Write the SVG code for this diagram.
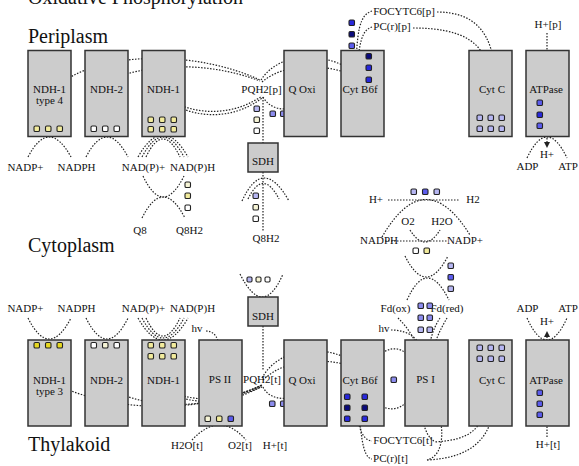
<svg xmlns="http://www.w3.org/2000/svg" width="579" height="466" viewBox="0 0 579 466">
<defs>
<style>
.box{fill:#cccccc;stroke:#333;stroke-width:1.5}
.sq{stroke:#222;stroke-width:1.1}
.w{fill:#ffffff}.cr{fill:#f6f4d6}.py{fill:#f2eb9c}.y{fill:#e6d820}
.lv{fill:#b6b6f2}.lb{fill:#8c8cee}.mb{fill:#5c5ced}.b{fill:#2828dc}.n{fill:#0a0a7c}
.c{fill:none;stroke:#222;stroke-width:1.2;stroke-dasharray:1.5 1.5}
text{font-family:"Liberation Serif","Times New Roman",serif;fill:#111}
.t{font-size:11px;text-anchor:middle}
.h{font-size:20px}
</style>
<marker id="ar" viewBox="0 0 6 6" refX="5" refY="3" markerWidth="5" markerHeight="5" orient="auto">
<path d="M0,0 L6,3 L0,6 z" fill="#222"/>
</marker>
</defs>
<rect width="579" height="466" fill="#fff"/>

<text class="h" x="28" y="4">Oxidative Phosphorylation</text>
<text class="h" x="28" y="43">Periplasm</text>
<text class="h" x="28" y="252">Cytoplasm</text>
<text class="h" x="28" y="451">Thylakoid</text>

<g id="connectors">
<!-- top -->
<path class="c" d="M64,81 C110,50 200,52 260,80"/>
<path class="c" d="M107,81 C150,62 210,62 260,81"/>
<path class="c" d="M163,96 C195,118 235,115 262,96"/>
<path class="c" d="M165,99 C195,121 235,119 262,98"/>
<path class="c" d="M261,80 C280,50 330,50 363,78" marker-end="url(#ar)"/>
<path class="c" d="M262,82 C285,62 330,62 363,80"/>
<path class="c" d="M263,97 C272,113 295,113 306,96"/>
<path class="c" d="M263,97 L263,143"/>
<path class="c" d="M263,172 L263,231"/>
<path class="c" d="M242,201 Q263,155 289,201"/>
<path class="c" d="M248,199 Q263,168 279,199"/>
<path class="c" d="M28,157 Q49,117 71,157"/>
<path class="c" d="M86,157 Q107,117 128,157"/>
<path class="c" d="M138,157 Q163,113 188,157"/>
<path class="c" d="M142,157 Q163,117 184,157"/>
<path class="c" d="M146,157 Q163,121 180,157"/>
<path class="c" d="M143,176 Q163,218 184,176"/>
<path class="c" d="M142,218 Q163,176 185,218"/>
<path class="c" d="M547,33 L547,147" marker-end="url(#ar)"/>
<path class="c" d="M527,158 Q547,116 567,158"/>
<path class="c" d="M437,12 C472,12 495,30 495,81" marker-end="url(#ar)"/>
<path class="c" d="M413,28 C462,28 489,42 489,81" marker-end="url(#ar)"/>
<path class="c" d="M372,11 C360,15 356,28 356,83"/>
<path class="c" d="M372,27 C362,30 358,42 357,83"/>
<!-- cytoplasm right -->
<path class="c" d="M388,200 L460,200"/>
<path class="c" d="M382,237 Q425,163 470,235"/>
<path class="c" d="M385,241 L448,241"/>
<path class="c" d="M410,230 Q425,254 440,230"/>
<path class="c" d="M405,256 Q426,298 448,256"/>
<path class="c" d="M407,300 Q427,256 449,300"/>
<!-- bottom -->
<path class="c" d="M28,318 Q49,360 71,318"/>
<path class="c" d="M86,318 Q107,360 128,318"/>
<path class="c" d="M138,318 Q163,362 188,318"/>
<path class="c" d="M142,318 Q163,358 184,318"/>
<path class="c" d="M146,318 Q163,354 180,318"/>
<path class="c" d="M206,331 C218,331 221,345 220,364" marker-end="url(#ar)"/>
<path class="c" d="M192,440 Q220,410 246,440"/>
<path class="c" d="M240,274 Q263,320 283,274"/>
<path class="c" d="M263,326 L263,370"/>
<path class="c" d="M64,388 C120,412 200,414 262,385"/>
<path class="c" d="M107,388 C150,410 205,411 262,385"/>
<path class="c" d="M165,388 C190,404 230,402 262,385"/>
<path class="c" d="M167,391 C192,407 232,404 262,386"/>
<path class="c" d="M226,392 C238,396 250,392 262,387"/>
<path class="c" d="M263,387 C270,402 295,403 307,385"/>
<path class="c" d="M262,378 C280,345 330,342 363,368" marker-end="url(#ar)"/>
<path class="c" d="M263,380 C285,358 330,356 363,370"/>
<path class="c" d="M372,367 C376,350 405,336 414,368"/>
<path class="c" d="M368,392 C375,410 405,420 413,388"/>
<path class="c" d="M398,318 C410,330 420,345 421,366" marker-end="url(#ar)"/>
<path class="c" d="M391,330 C410,330 424,340 425,366" marker-end="url(#ar)"/>
<path class="c" d="M447,318 C440,330 432,345 431,366" marker-end="url(#ar)"/>
<path class="c" d="M440,318 C432,330 428,345 428,366"/>
<path class="c" d="M423,392 C418,425 430,440 434,441"/>
<path class="c" d="M431,392 C445,420 447,455 427,460"/>
<path class="c" d="M488,392 C485,430 470,440 434,442"/>
<path class="c" d="M495,392 C495,440 470,458 427,460"/>
<path class="c" d="M355,390 C356,420 360,440 372,441"/>
<path class="c" d="M358,390 C360,430 362,458 372,459"/>
<path class="c" d="M547,437 L547,332" marker-end="url(#ar)"/>
<path class="c" d="M527,318 Q547,362 567,318"/>
</g>

<!-- top row nodes -->
<g id="ndh1-type4-p">
<rect class="box" x="28" y="50.5" width="43" height="86"/>
<text class="t" x="49.5" y="93">NDH-1</text>
<text class="t" x="49.5" y="104">type 4</text>
<rect class="sq py" x="34" y="126" width="5.5" height="5.5" rx="1.3"/>
<rect class="sq py" x="45.5" y="126" width="5.5" height="5.5" rx="1.3"/>
<rect class="sq py" x="57" y="126" width="5.5" height="5.5" rx="1.3"/>
</g>
<g id="ndh2-p">
<rect class="box" x="85" y="50.5" width="43" height="86"/>
<text class="t" x="106.5" y="93">NDH-2</text>
<rect class="sq w" x="91" y="126" width="5.5" height="5.5" rx="1.3"/>
<rect class="sq w" x="102.5" y="126" width="5.5" height="5.5" rx="1.3"/>
<rect class="sq w" x="114" y="126" width="5.5" height="5.5" rx="1.3"/>
</g>
<g id="ndh1-p">
<rect class="box" x="142" y="50.5" width="43" height="86"/>
<text class="t" x="163.5" y="93">NDH-1</text>
<rect class="sq py" x="148" y="117" width="5.5" height="5.5" rx="1.3"/>
<rect class="sq py" x="159.5" y="117" width="5.5" height="5.5" rx="1.3"/>
<rect class="sq py" x="171" y="117" width="5.5" height="5.5" rx="1.3"/>
<rect class="sq py" x="148" y="126.5" width="5.5" height="5.5" rx="1.3"/>
<rect class="sq py" x="159.5" y="126.5" width="5.5" height="5.5" rx="1.3"/>
<rect class="sq py" x="171" y="126.5" width="5.5" height="5.5" rx="1.3"/>
</g>
<g id="pqh2-p">
<text class="t" x="261.5" y="93">PQH2[p]</text>
<rect class="sq lv" x="254" y="106" width="5.5" height="5.5" rx="1.3"/>
<rect class="sq cr" x="254" y="117" width="5.5" height="5.5" rx="1.3"/>
<rect class="sq w" x="254" y="128" width="5.5" height="5.5" rx="1.3"/>
<rect class="sq lb" x="270" y="111" width="5.5" height="5.5" rx="1.3"/>
<rect class="sq lb" x="280.5" y="111" width="5.5" height="5.5" rx="1.3"/>
</g>
<g id="qoxi-p">
<rect class="box" x="284" y="50.5" width="43" height="86"/>
<text class="t" x="302" y="93">Q Oxi</text>
</g>
<g id="cytb6f-p">
<rect class="box" x="341" y="50.5" width="43" height="86"/>
<text class="t" x="360" y="93">Cyt B6f</text>
<rect class="sq b" x="349" y="20" width="5.5" height="5.5" rx="1.3"/>
<rect class="sq n" x="349" y="31.5" width="5.5" height="5.5" rx="1.3"/>
<rect class="sq mb" x="349" y="43" width="5.5" height="5.5" rx="1.3"/>
<rect class="sq n" x="366" y="53.5" width="5.5" height="5.5" rx="1.3"/>
<rect class="sq b" x="366" y="65" width="5.5" height="5.5" rx="1.3"/>
<rect class="sq b" x="366" y="77" width="5.5" height="5.5" rx="1.3"/>
</g>
<g id="cytc-p">
<rect class="box" x="469" y="50.5" width="43" height="86"/>
<text class="t" x="492" y="93">Cyt C</text>
<rect class="sq lv" x="477" y="115" width="5.5" height="5.5" rx="1.3"/>
<rect class="sq lv" x="488" y="115" width="5.5" height="5.5" rx="1.3"/>
<rect class="sq lv" x="499" y="115" width="5.5" height="5.5" rx="1.3"/>
<rect class="sq lv" x="477" y="126" width="5.5" height="5.5" rx="1.3"/>
<rect class="sq lv" x="488" y="126" width="5.5" height="5.5" rx="1.3"/>
<rect class="sq lv" x="499" y="126" width="5.5" height="5.5" rx="1.3"/>
</g>
<g id="atpase-p">
<rect class="box" x="526" y="50.5" width="43" height="86"/>
<text class="t" x="546" y="93">ATPase</text>
<rect class="sq mb" x="537" y="100" width="5.5" height="5.5" rx="1.3"/>
<rect class="sq b" x="537" y="112" width="5.5" height="5.5" rx="1.3"/>
<rect class="sq mb" x="537" y="123" width="5.5" height="5.5" rx="1.3"/>
</g>
<g id="sdh-top">
<rect class="box" x="248" y="143" width="30" height="29"/>
<text class="t" x="263" y="165">SDH</text>
<rect class="sq lv" x="253" y="193" width="5.5" height="5.5" rx="1.3"/>
<rect class="sq cr" x="253" y="204.5" width="5.5" height="5.5" rx="1.3"/>
<rect class="sq w" x="253" y="216" width="5.5" height="5.5" rx="1.3"/>
</g>

<!-- top metabolite labels -->
<g id="labels-top">
<text class="t" x="548" y="28">H+[p]</text>
<text class="t" x="404" y="15">FOCYTC6[p]</text>
<text class="t" x="392" y="30">PC(r)[p]</text>
<text class="t" x="25.5" y="171">NADP+</text>
<text class="t" x="76.5" y="171">NADPH</text>
<text class="t" x="143.5" y="171">NAD(P)+</text>
<text class="t" x="192.5" y="171">NAD(P)H</text>
<text class="t" x="140" y="234">Q8</text>
<text class="t" x="189.5" y="234">Q8H2</text>
<text class="t" x="266" y="242">Q8H2</text>
<text class="t" x="547" y="158">H+</text>
<text class="t" x="527.5" y="170">ADP</text>
<text class="t" x="568" y="170">ATP</text>
</g>
<g id="nadph-sq">
<rect class="sq cr" x="185" y="182" width="5.5" height="5.5" rx="1.3"/>
<rect class="sq py" x="185" y="193" width="5.5" height="5.5" rx="1.3"/>
<rect class="sq w" x="185" y="205" width="5.5" height="5.5" rx="1.3"/>
</g>

<!-- cytoplasm right -->
<g id="hydrogenase">
<text class="t" x="376" y="203">H+</text>
<text class="t" x="473" y="203">H2</text>
<rect class="sq lv" x="411" y="189" width="5.5" height="5.5" rx="1.3"/>
<rect class="sq mb" x="422.5" y="189" width="5.5" height="5.5" rx="1.3"/>
<rect class="sq lv" x="434" y="189" width="5.5" height="5.5" rx="1.3"/>
</g>
<g id="oxidase">
<text class="t" x="408" y="225">O2</text>
<text class="t" x="442" y="225">H2O</text>
<text class="t" x="379" y="244">NADPH</text>
<text class="t" x="465" y="244">NADP+</text>
<rect class="sq w" x="413" y="248" width="5.5" height="5.5" rx="1.3"/>
<rect class="sq py" x="424" y="248" width="5.5" height="5.5" rx="1.3"/>
</g>
<g id="fnr">
<rect class="sq lv" x="448" y="263" width="5.5" height="5.5" rx="1.3"/>
<rect class="sq mb" x="448" y="274.5" width="5.5" height="5.5" rx="1.3"/>
<rect class="sq lv" x="448" y="286" width="5.5" height="5.5" rx="1.3"/>
</g>

<!-- bottom row -->
<g id="sdh-bottom">
<rect class="sq lv" x="247" y="277" width="5" height="5" rx="1.2"/>
<rect class="sq cr" x="256" y="277" width="5" height="5" rx="1.2"/>
<rect class="sq w" x="265" y="277" width="5" height="5" rx="1.2"/>
<rect class="box" x="248" y="297" width="30" height="29"/>
<text class="t" x="263" y="320">SDH</text>
</g>
<g id="labels-bottom">
<text class="t" x="25.5" y="312">NADP+</text>
<text class="t" x="76.5" y="312">NADPH</text>
<text class="t" x="143.5" y="312">NAD(P)+</text>
<text class="t" x="192.5" y="312">NAD(P)H</text>
<text class="t" x="197" y="332">hv</text>
<text class="t" x="187" y="449">H2O[t]</text>
<text class="t" x="240" y="449">O2[t]</text>
<text class="t" x="275" y="449">H+[t]</text>
<text class="t" x="395.5" y="312">Fd(ox)</text>
<text class="t" x="447" y="312">Fd(red)</text>
<text class="t" x="384" y="332">hv</text>
<text class="t" x="403" y="444">FOCYTC6[t]</text>
<text class="t" x="390.5" y="462">PC(r)[t]</text>
<text class="t" x="527.5" y="312">ADP</text>
<text class="t" x="568" y="312">ATP</text>
<text class="t" x="547" y="325">H+</text>
<text class="t" x="548" y="448">H+[t]</text>
</g>
<g id="ndh1-type3-t">
<rect class="box" x="28" y="340" width="43" height="86"/>
<text class="t" x="49.5" y="384">NDH-1</text>
<text class="t" x="49.5" y="395">type 3</text>
<rect class="sq y" x="34" y="342.5" width="5.5" height="5.5" rx="1.3"/>
<rect class="sq y" x="45.5" y="342.5" width="5.5" height="5.5" rx="1.3"/>
<rect class="sq y" x="57" y="342.5" width="5.5" height="5.5" rx="1.3"/>
</g>
<g id="ndh2-t">
<rect class="box" x="85" y="340" width="43" height="86"/>
<text class="t" x="106.5" y="384">NDH-2</text>
<rect class="sq w" x="91" y="342.5" width="5.5" height="5.5" rx="1.3"/>
<rect class="sq cr" x="102.5" y="342.5" width="5.5" height="5.5" rx="1.3"/>
<rect class="sq w" x="114" y="342.5" width="5.5" height="5.5" rx="1.3"/>
</g>
<g id="ndh1-t">
<rect class="box" x="142" y="340" width="43" height="86"/>
<text class="t" x="163.5" y="384">NDH-1</text>
<rect class="sq py" x="148" y="342.5" width="5.5" height="5.5" rx="1.3"/>
<rect class="sq py" x="159.5" y="342.5" width="5.5" height="5.5" rx="1.3"/>
<rect class="sq py" x="171" y="342.5" width="5.5" height="5.5" rx="1.3"/>
<rect class="sq py" x="148" y="353.5" width="5.5" height="5.5" rx="1.3"/>
<rect class="sq py" x="159.5" y="353.5" width="5.5" height="5.5" rx="1.3"/>
<rect class="sq py" x="171" y="353.5" width="5.5" height="5.5" rx="1.3"/>
</g>
<g id="psii">
<rect class="box" x="199" y="340" width="43" height="86"/>
<text class="t" x="220" y="383">PS II</text>
<rect class="sq cr" x="205" y="416" width="5.5" height="5.5" rx="1.3"/>
<rect class="sq py" x="216.5" y="416" width="5.5" height="5.5" rx="1.3"/>
<rect class="sq mb" x="228" y="416" width="5.5" height="5.5" rx="1.3"/>
</g>
<g id="pqh2-t">
<text class="t" x="262" y="383">PQH2[t]</text>
<rect class="sq lb" x="269.5" y="401" width="5.5" height="5.5" rx="1.3"/>
<rect class="sq lb" x="280.5" y="401" width="5.5" height="5.5" rx="1.3"/>
</g>
<g id="qoxi-t">
<rect class="box" x="284" y="340" width="43" height="86"/>
<text class="t" x="302" y="384">Q Oxi</text>
</g>
<g id="cytb6f-t">
<rect class="box" x="341" y="340" width="43" height="86"/>
<text class="t" x="360" y="384">Cyt B6f</text>
<rect class="sq b" x="344.5" y="394" width="5.5" height="5.5" rx="1.3"/>
<rect class="sq b" x="362" y="394" width="5.5" height="5.5" rx="1.3"/>
<rect class="sq n" x="344.5" y="405" width="5.5" height="5.5" rx="1.3"/>
<rect class="sq n" x="362" y="405" width="5.5" height="5.5" rx="1.3"/>
<rect class="sq b" x="344.5" y="416" width="5.5" height="5.5" rx="1.3"/>
<rect class="sq b" x="362" y="416" width="5.5" height="5.5" rx="1.3"/>
</g>
<g id="pc-sq">
<rect class="sq lb" x="391" y="377" width="5.5" height="5.5" rx="1.3"/>
</g>
<g id="psi">
<rect class="box" x="405" y="340" width="43" height="86"/>
<text class="t" x="425.5" y="383">PS I</text>
<rect class="sq lb" x="418" y="303" width="5.5" height="5.5" rx="1.3"/>
<rect class="sq lb" x="427" y="303" width="5.5" height="5.5" rx="1.3"/>
<rect class="sq lb" x="418" y="315" width="5.5" height="5.5" rx="1.3"/>
<rect class="sq lb" x="427" y="315" width="5.5" height="5.5" rx="1.3"/>
<rect class="sq lv" x="418" y="327" width="5.5" height="5.5" rx="1.3"/>
<rect class="sq lv" x="427" y="327" width="5.5" height="5.5" rx="1.3"/>
</g>
<g id="cytc-t">
<rect class="box" x="469" y="340" width="43" height="86"/>
<text class="t" x="492" y="384">Cyt C</text>
<rect class="sq lv" x="477" y="345" width="5.5" height="5.5" rx="1.3"/>
<rect class="sq lv" x="488" y="345" width="5.5" height="5.5" rx="1.3"/>
<rect class="sq lv" x="499" y="345" width="5.5" height="5.5" rx="1.3"/>
<rect class="sq lv" x="477" y="356" width="5.5" height="5.5" rx="1.3"/>
<rect class="sq lv" x="488" y="356" width="5.5" height="5.5" rx="1.3"/>
<rect class="sq lv" x="499" y="356" width="5.5" height="5.5" rx="1.3"/>
</g>
<g id="atpase-t">
<rect class="box" x="526" y="340" width="43" height="86"/>
<text class="t" x="546" y="384">ATPase</text>
<rect class="sq mb" x="537" y="390" width="5.5" height="5.5" rx="1.3"/>
<rect class="sq mb" x="537" y="401" width="5.5" height="5.5" rx="1.3"/>
<rect class="sq mb" x="537" y="412" width="5.5" height="5.5" rx="1.3"/>
</g>
</svg>
